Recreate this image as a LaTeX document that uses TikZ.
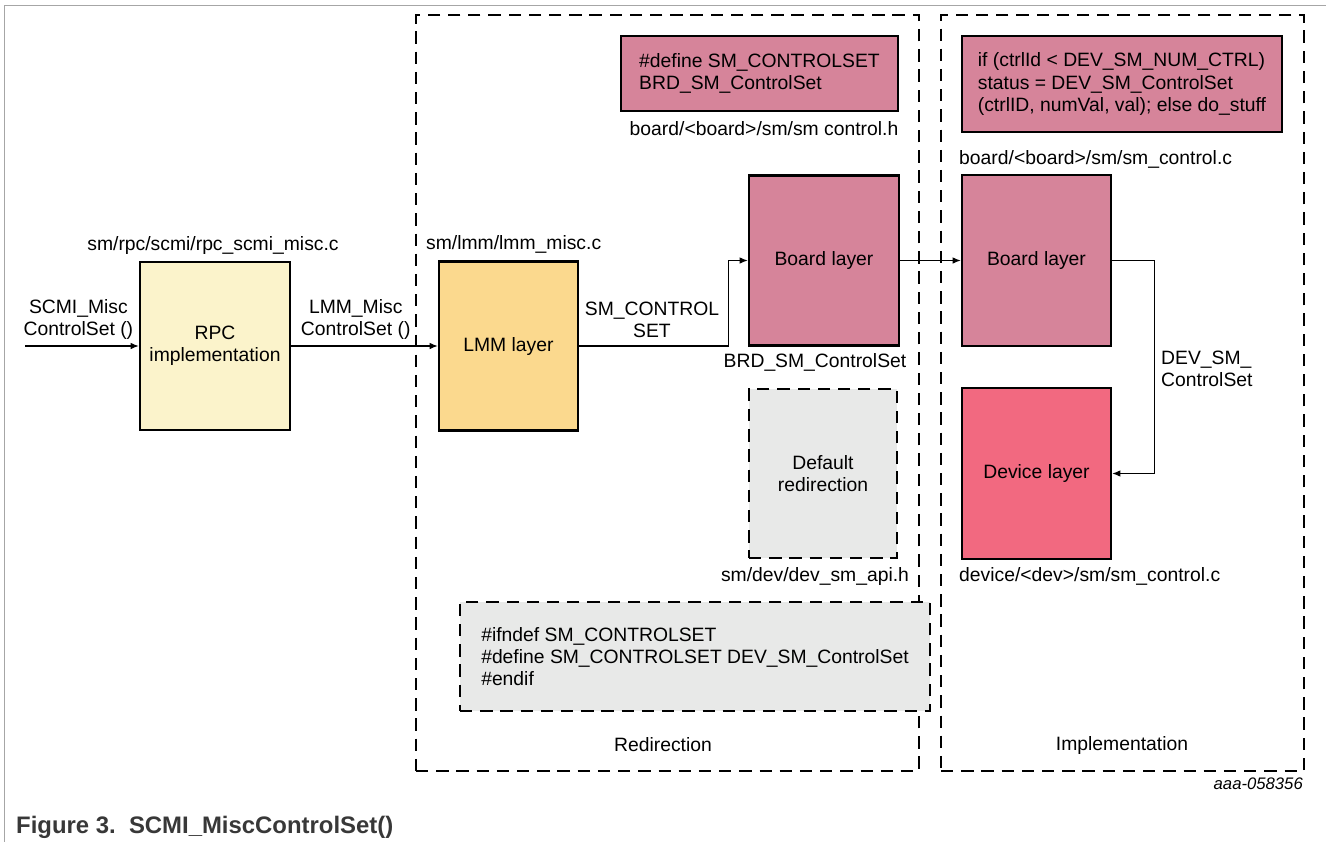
\documentclass[tikz,border=0pt]{standalone}
\usepackage{fontspec}
\setmainfont{Liberation Sans}
\usetikzlibrary{arrows.meta}
\definecolor{rpcfill}{HTML}{FBF3CB}
\definecolor{lmmfill}{HTML}{FBD98E}
\definecolor{brdfill}{HTML}{D6849A}
\definecolor{devfill}{HTML}{F26980}
\definecolor{grayfill}{HTML}{E8E9E8}
\begin{document}
\begin{tikzpicture}[x=0.02cm, y=-0.02cm, >={Latex[length=1.6mm,width=1.3mm]},
	every node/.style={font=\fontsize{11}{12.7}\selectfont},
	box/.style={draw, line width=1.5pt, inner sep=0pt, align=center},
	dashbox/.style={box, dash pattern=on 7pt off 4.5pt},
	region/.style={draw, line width=1.5pt, dash pattern=on 7pt off 4.5pt, minimum height=15.12cm},
	wire/.style={line width=0.6pt}]
	\useasboundingbox (0,0) rectangle (1326,842);
	\draw[gray!70] (4,842) -- (4,5) -- (1326,5);
	% the two groups
	\node[region, minimum width=10.06cm] (redir) at (667.5,393) {};
	\node[region, minimum width=7.26cm] (impl) at (1122.5,393) {};
	\node (redirlbl) at (663,745) {Redirection};
	\node (impllbl) at (1122,745) {Implementation};
	% layers
	\node[box, fill=rpcfill, minimum width=3cm, minimum height=3.36cm] (rpc) at (215,346) {RPC\\implementation};
	\node[box, fill=lmmfill, minimum width=2.78cm, minimum height=3.38cm] (lmm) at (508.5,346) {LMM layer};
	\node[box, fill=brdfill, minimum width=3cm, minimum height=3.4cm] (brd) at (824,260.5) {Board layer};
	\node[dashbox, fill=grayfill, minimum width=2.96cm, minimum height=3.38cm] (dflt) at (823,473.5) {Default\\redirection};
	\node[box, fill=brdfill, align=left, minimum width=5.54cm, minimum height=1.5cm] (brddef) at (759.5,73.5) {\#define SM\_CONTROLSET\\BRD\_SM\_ControlSet};
	\node[dashbox, fill=grayfill, align=left, minimum width=9.4cm, minimum height=2.18cm] (ifndef) at (695,656.5) {\#ifndef SM\_CONTROLSET\\\#define SM\_CONTROLSET DEV\_SM\_ControlSet\\\#endif};
	\node[box, fill=brdfill, align=left, minimum width=6.4cm, minimum height=1.92cm] (devcall) at (1122,84) {if (ctrlId < DEV\_SM\_NUM\_CTRL)\\status = DEV\_SM\_ControlSet\\(ctrlID, numVal, val); else do\_stuff};
	\node[box, fill=brdfill, minimum width=2.98cm, minimum height=3.42cm] (ibrd) at (1036.5,260.5) {Board layer};
	\node[box, fill=devfill, minimum width=2.98cm, minimum height=3.42cm] (dev) at (1036.5,473.5) {Device layer};
	% file names
	\node (rpcfile) at (213,245) {sm/rpc/scmi/rpc\_scmi\_misc.c};
	\node[anchor=west] (lmmfile) at (420,244) {sm/lmm/lmm\_misc.c};
	\node (brdhfile) at (764,129) {board/<board>/sm/sm control.h};
	\node (brdfn) at (815,362) {BRD\_SM\_ControlSet};
	\node (apifile) at (815,576) {sm/dev/dev\_sm\_api.h};
	\node[anchor=west] (brdcfile) at (953,159) {board/<board>/sm/sm\_control.c};
	\node[anchor=west] (devfile) at (953,576) {device/<dev>/sm/sm\_control.c};
	% calls
	\coordinate (src) at (25,346);
	\draw[wire,->] (src) -- (rpc.west) node[pos=0.47, above, align=center] (inlbl) {SCMI\_Misc\\ControlSet ()};
	\draw[wire,->] (rpc.east) -- (lmm.west) node[pos=0.44, above, align=center] (outlbl) {LMM\_Misc\\ControlSet ()};
	\draw[wire,->] (lmm.east) -- ++(149,0) |- (brd.west);
	\node[align=center] (setlbl) at (652,320) {SM\_CONTROL\\SET};
	\draw[wire,->] (brd.east) -- (ibrd.west);
	\draw[wire,->] (ibrd.east) -- ++(42,0) |- (dev.east);
	\node[anchor=west, align=left] (devlbl) at (1155,369) {DEV\_SM\_\\ControlSet};
	\node[anchor=east, font=\itshape\fontsize{9.5}{11}\selectfont] (figid) at (1309,784) {aaa-058356};
	\node[anchor=west, font=\bfseries\fontsize{13.6}{16}\selectfont, text=black!78] (caption) at (10,827) {Figure 3.\ \ SCMI\_MiscControlSet()};
\end{tikzpicture}
\end{document}
